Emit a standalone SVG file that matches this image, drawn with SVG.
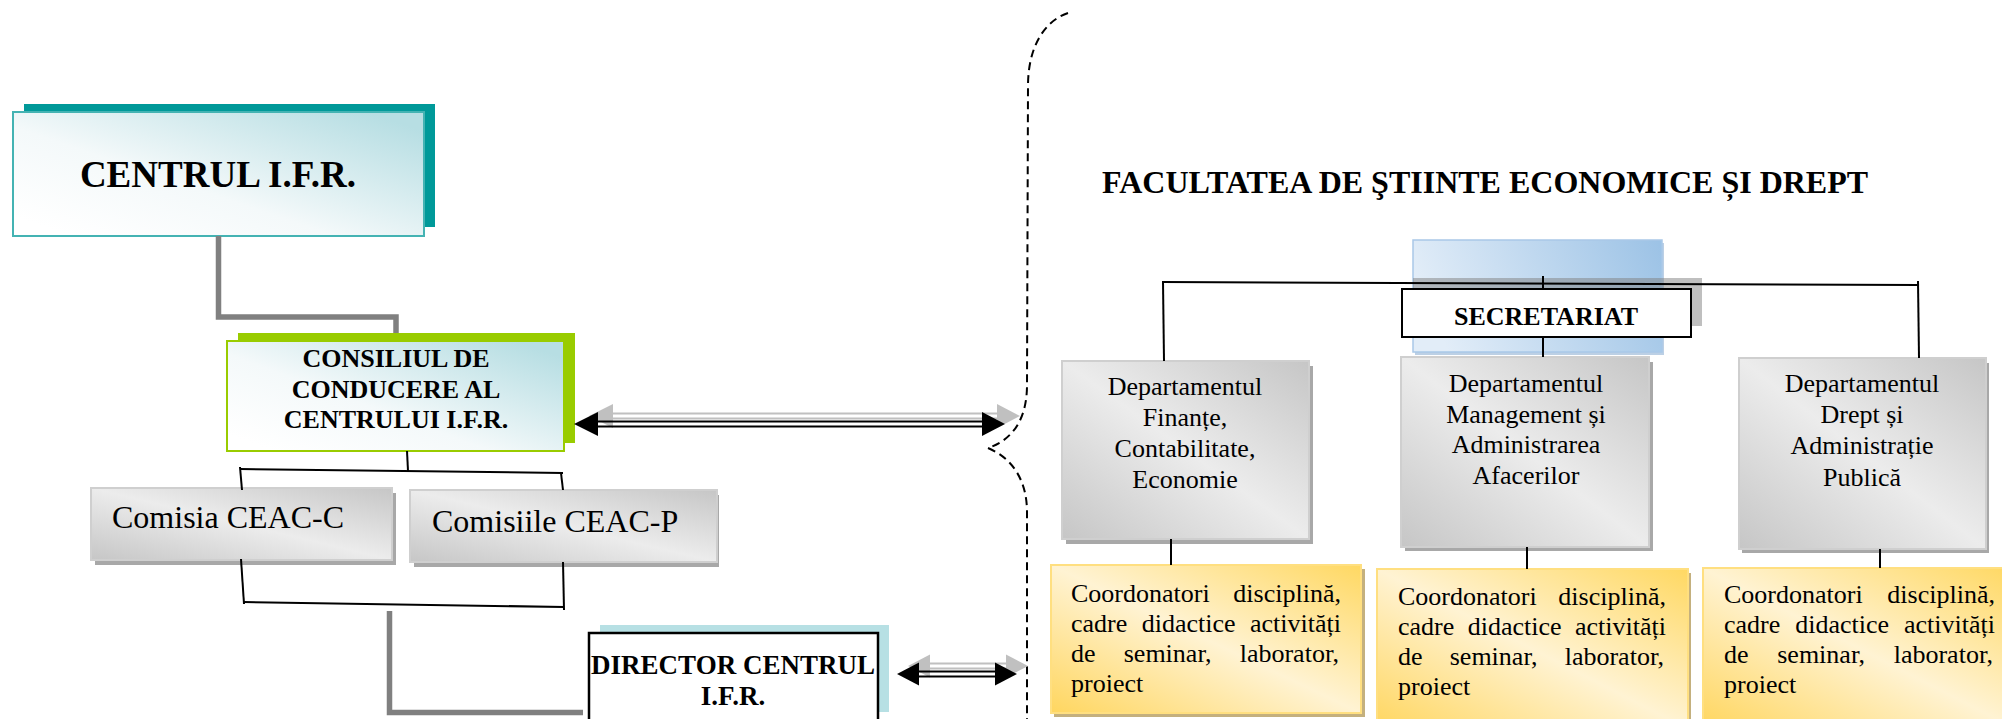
<svg xmlns="http://www.w3.org/2000/svg" width="2002" height="719" viewBox="0 0 2002 719">
<defs>
<style>
.t{font-family:"Liberation Serif","Times New Roman",serif;fill:#000}
.b{font-weight:bold}
.ln{fill:none;stroke:#000;stroke-width:2}
.thick{fill:none;stroke:#808080;stroke-width:5.5}
.dash{fill:none;stroke:#000;stroke-width:2;stroke-dasharray:8 5}
.shGray{fill:#a8a8a8}
.boxGray{fill:url(#gGray);stroke:#cfcfcf;stroke-width:2}
.boxYel{fill:url(#gYel);stroke:#ffdf80;stroke-width:2}
.shYel{fill:#c4b07e}
.arB line{stroke:#000;stroke-width:2}
.arB polygon{fill:#000}
.arG line{stroke:#c0c0c0;stroke-width:2}
.arG polygon{fill:#c0c0c0}
</style>
<linearGradient id="gTeal" x1="0.05" y1="0.9" x2="0.95" y2="0.1">
<stop offset="0" stop-color="#ffffff"/><stop offset="0.4" stop-color="#f4f9fa"/><stop offset="1" stop-color="#b7dee3"/>
</linearGradient>
<linearGradient id="gGray" x1="0" y1="1" x2="1" y2="0">
<stop offset="0" stop-color="#c6c6c6"/><stop offset="0.5" stop-color="#ececec"/><stop offset="1" stop-color="#c6c6c6"/>
</linearGradient>
<linearGradient id="gYel" x1="0" y1="1" x2="1" y2="0">
<stop offset="0" stop-color="#ffd65f"/><stop offset="0.5" stop-color="#fff3d3"/><stop offset="1" stop-color="#ffd862"/>
</linearGradient>
<linearGradient id="gBlue" x1="0" y1="0.3" x2="1" y2="0.1">
<stop offset="0" stop-color="#e2edf8"/><stop offset="1" stop-color="#9dc3e6"/>
</linearGradient>
</defs>
<rect width="2002" height="719" fill="#fff"/>

<g id="centrul">
<rect x="24" y="104" width="411" height="123" fill="#009999"/>
<rect x="13" y="112" width="411" height="124" fill="url(#gTeal)" stroke="#44b3b3" stroke-width="2"/>
<text class="t b" x="218" y="187" font-size="37" text-anchor="middle">CENTRUL I.F.R.</text>
</g>

<g id="consiliul">
<rect x="238" y="333" width="337" height="110" fill="#99cc00"/>
<rect x="227" y="341" width="337" height="110" fill="url(#gTeal)" stroke="#99cc00" stroke-width="2"/>
<text class="t b" font-size="26" text-anchor="middle"><tspan x="396" y="367">CONSILIUL DE</tspan><tspan x="396" y="398">CONDUCERE AL</tspan><tspan x="396" y="428">CENTRULUI I.F.R.</tspan></text>
</g>

<g id="comisia-c">
<rect class="shGray" x="95" y="493" width="301" height="72"/>
<rect class="boxGray" x="91" y="488" width="301" height="72"/>
<text class="t" x="112" y="528" font-size="32">Comisia CEAC-C</text>
</g>

<g id="comisiile-p">
<rect class="shGray" x="414" y="495" width="305" height="72"/>
<rect class="boxGray" x="410" y="490" width="307" height="72"/>
<text class="t" x="432" y="532" font-size="32">Comisiile CEAC-P</text>
</g>

<g id="director">
<rect x="600" y="625" width="289" height="87" fill="#b7e0e4"/>
<rect x="589" y="633" width="289" height="100" fill="#fff" stroke="#000" stroke-width="2.5"/>
<text class="t b" font-size="27" text-anchor="middle"><tspan x="733" y="674">DIRECTOR CENTRUL</tspan><tspan x="733" y="705">I.F.R.</tspan></text>
</g>

<g id="facultatea-title">
<text class="t b" x="1102" y="193" font-size="32">FACULTATEA DE ŞTIINTE ECONOMICE ȘI DREPT</text>
</g>

<g id="secretariat-bg">
<rect x="1415" y="243" width="249" height="112" fill="#8fb0d3" opacity="0.6"/>
<rect x="1413" y="240" width="249" height="112" fill="url(#gBlue)" stroke="#a9c8e8" stroke-width="1.5"/>
<rect x="1413" y="278" width="289" height="48" fill="#7f7f7f" opacity="0.5"/>
</g>

<g id="dept-1">
<rect class="shGray" x="1066" y="366" width="247" height="178"/>
<rect class="boxGray" x="1062" y="361" width="247" height="178"/>
<text class="t" font-size="26" text-anchor="middle"><tspan x="1185" y="395">Departamentul</tspan><tspan x="1185" y="426">Finanțe,</tspan><tspan x="1185" y="457">Contabilitate,</tspan><tspan x="1185" y="488">Economie</tspan></text>
</g>

<g id="dept-2">
<rect class="shGray" x="1405" y="362" width="248" height="189"/>
<rect class="boxGray" x="1401" y="357" width="248" height="190"/>
<text class="t" font-size="26" text-anchor="middle"><tspan x="1526" y="392">Departamentul</tspan><tspan x="1526" y="423">Management și</tspan><tspan x="1526" y="453">Administrarea</tspan><tspan x="1526" y="484">Afacerilor</tspan></text>
</g>

<g id="dept-3">
<rect class="shGray" x="1742" y="363" width="247" height="190"/>
<rect class="boxGray" x="1739" y="358" width="247" height="191"/>
<text class="t" font-size="26" text-anchor="middle"><tspan x="1862" y="392">Departamentul</tspan><tspan x="1862" y="423">Drept și</tspan><tspan x="1862" y="454">Administrație</tspan><tspan x="1862" y="486">Publică</tspan></text>
</g>

<g id="coord-1">
<rect class="shYel" x="1054" y="569" width="311" height="148"/>
<rect class="boxYel" x="1051" y="565" width="310" height="148"/>
<text class="t" font-size="26"><tspan x="1071" y="602" word-spacing="17.2">Coordonatori disciplină,</tspan><tspan x="1071" y="632" word-spacing="7.9">cadre didactice activități</tspan><tspan x="1071" y="662" word-spacing="21.7">de seminar, laborator,</tspan><tspan x="1071" y="692">proiect</tspan></text>
</g>

<g id="coord-2">
<rect class="shYel" x="1380" y="573" width="311" height="160"/>
<rect class="boxYel" x="1377" y="569" width="311" height="160"/>
<text class="t" font-size="26"><tspan x="1398" y="605" word-spacing="15.2">Coordonatori disciplină,</tspan><tspan x="1398" y="635" word-spacing="6.9">cadre didactice activități</tspan><tspan x="1398" y="665" word-spacing="20.7">de seminar, laborator,</tspan><tspan x="1398" y="695">proiect</tspan></text>
</g>

<g id="coord-3">
<rect class="shYel" x="1706" y="572" width="311" height="160"/>
<rect class="boxYel" x="1703" y="568" width="311" height="160"/>
<text class="t" font-size="26"><tspan x="1724" y="603" word-spacing="18.2">Coordonatori disciplină,</tspan><tspan x="1724" y="633" word-spacing="8.4">cadre didactice activități</tspan><tspan x="1724" y="663" word-spacing="22.2">de seminar, laborator,</tspan><tspan x="1724" y="693">proiect</tspan></text>
</g>

<g id="secretariat">
<rect x="1402" y="289" width="289" height="48" fill="#fff" stroke="#000" stroke-width="2"/>
<text class="t b" x="1546" y="325" font-size="26" text-anchor="middle">SECRETARIAT</text>
</g>

<g id="connectors">
<path class="thick" d="M218.5,236 V317 H396 V333"/>
<path class="thick" d="M389.5,611 V712.5 H583"/>
<path class="ln" d="M407,451 L408,471"/>
<path class="ln" d="M240,469 L563,473"/>
<path class="ln" d="M240,467 L242,490"/>
<path class="ln" d="M561,473 L563,490"/>
<path class="ln" d="M241,559 L244,604"/>
<path class="ln" d="M244,602 L564,607"/>
<path class="ln" d="M563,562 L564,610"/>
<path class="ln" d="M1162,282 L1919,285"/>
<path class="ln" d="M1163,282 L1164,361"/>
<path class="ln" d="M1918,281 L1919,358"/>
<path class="ln" d="M1543,276 V289"/>
<path class="ln" d="M1543,337 V357" stroke-width="3"/>
<path class="ln" d="M1171,539 V565"/>
<path class="ln" d="M1527,547 V569"/>
<path class="ln" d="M1880,549 V568"/>
<path class="dash" d="M1068,13 C1042,22 1028,50 1028,86 L1027,385 C1027,420 1012,440 988,448"/>
<path class="dash" d="M988,448 C1012,458 1027,480 1027,512 L1027,719"/>
<g class="arG" transform="translate(15,-8)">
<line x1="598" y1="421.5" x2="982" y2="421.5"/><line x1="598" y1="426.5" x2="982" y2="426.5"/>
<polygon points="574,424 598,412 598,436"/><polygon points="1005,424 982,412 982,436"/>
</g>
<g class="arB">
<line x1="598" y1="421.5" x2="982" y2="421.5"/><line x1="598" y1="426.5" x2="982" y2="426.5"/>
<polygon points="574,424 598,412 598,436"/><polygon points="1005,424 982,412 982,436"/>
</g>
<g class="arG" transform="translate(11,-8)">
<line x1="919" y1="671.5" x2="995" y2="671.5"/><line x1="919" y1="676.5" x2="995" y2="676.5"/>
<polygon points="897,674 919,662.5 919,685.5"/><polygon points="1017,674 995,662.5 995,685.5"/>
</g>
<g class="arB">
<line x1="919" y1="671.5" x2="995" y2="671.5"/><line x1="919" y1="676.5" x2="995" y2="676.5"/>
<polygon points="897,674 919,662.5 919,685.5"/><polygon points="1017,674 995,662.5 995,685.5"/>
</g>
</g>
</svg>
